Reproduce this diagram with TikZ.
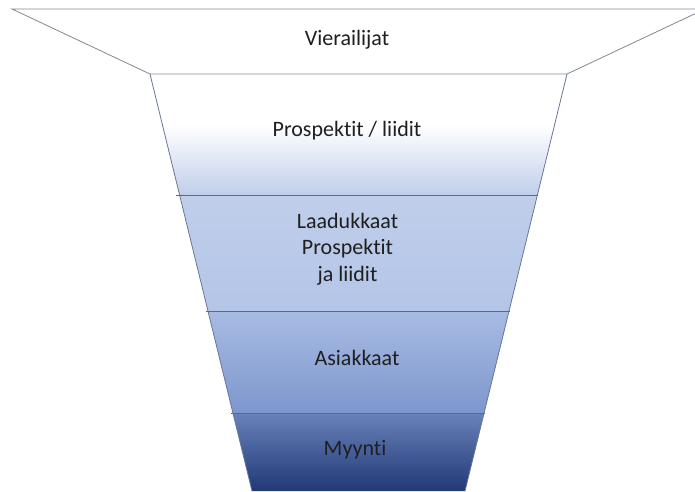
\documentclass[tikz,border=0pt]{standalone}
\usepackage{fontspec}
\setmainfont{Carlito}[Ligatures={NoCommon}]
\begin{document}
\begin{tikzpicture}[x=1pt,y=-1pt,
  lbl/.style={font=\fontsize{22}{26.5}\selectfont, text=black!88, align=center, inner sep=0pt},
  divider/.style={draw={rgb,255:red,80;green,105;blue,160}, line width=0.8pt}]
\definecolor{cA}{RGB}{192,206,234}
\definecolor{cB}{RGB}{180,197,232}
\definecolor{cC}{RGB}{168,187,227}
\definecolor{cD}{RGB}{125,150,205}
\definecolor{cE}{RGB}{105,130,185}
\definecolor{cF}{RGB}{32,56,118}
\definecolor{lineG}{RGB}{128,136,150}
\definecolor{lineE}{RGB}{105,118,150}
\useasboundingbox (0,0) rectangle (695,491);
\fill[white] (0,0) rectangle (695,491);
% coordinates
\coordinate (TL) at (12,9);
\coordinate (TR) at (705,9);
\coordinate (ML) at (150,74);
\coordinate (MR) at (567,74);
\coordinate (BL) at (252,491);
\coordinate (BR) at (465,491);
% funnel body shading
\begin{scope}
\clip (ML) -- (MR) -- (BR) -- (BL) -- cycle;
\fill[white] (140,74) rectangle (580,125);
\shade[top color=white, bottom color=cA] (140,124.5) rectangle (580,195.5);
\shade[top color=cA, bottom color=cB] (140,195) rectangle (580,311.5);
\shade[top color=cC, bottom color=cD] (140,311) rectangle (580,413.5);
\shade[top color=cE, bottom color=cF] (140,413) rectangle (580,492);
\end{scope}
% top trapezoid
\draw[draw=lineG, line width=0.8pt] (ML) -- (TL) -- (TR) -- (MR) -- cycle;
% funnel edges
\draw[draw=lineE, line width=0.8pt] (ML) -- (BL);
\draw[draw=lineE, line width=0.8pt] (MR) -- (BR);
% dividers
\coordinate (d1l) at (176,195); \coordinate (d1r) at (538,195);
\coordinate (d2l) at (206,311); \coordinate (d2r) at (510,311);
\coordinate (d3l) at (231,413); \coordinate (d3r) at (485,413);
\draw[divider] (d1l) -- (d1r);
\draw[divider] (d2l) -- (d2r);
\draw[divider] (d3l) -- (d3r);
% labels
\node[lbl] (v) at (347,40) {Vierailijat};
\node[lbl] (p) at (347,131) {Prospektit / liidit};
\node[lbl] (l) at (347.5,249) {Laadukkaat\\Prospektit\\ja liidit};
\node[lbl] (a) at (357,358) {Asiakkaat};
\node[lbl] (m) at (355,450) {Myynti};
\end{tikzpicture}
\end{document}
